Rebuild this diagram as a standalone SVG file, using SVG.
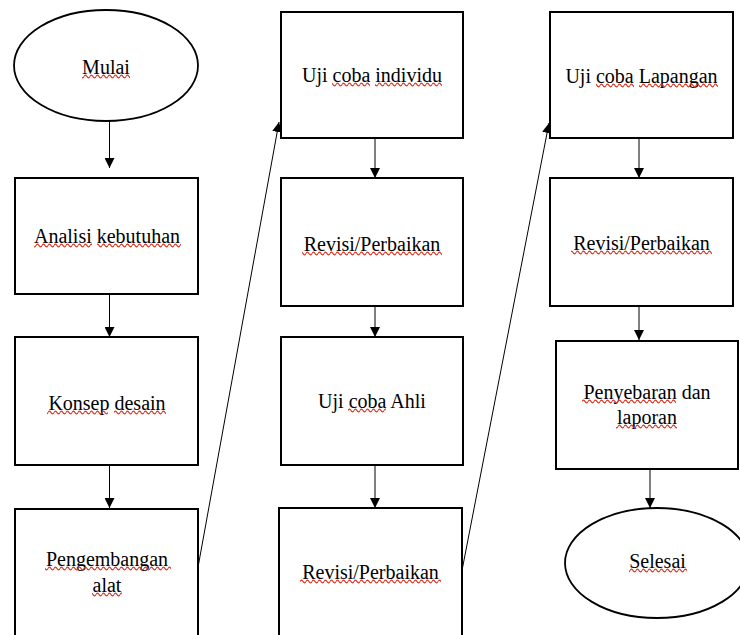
<svg xmlns="http://www.w3.org/2000/svg" width="740" height="635" viewBox="0 0 740 635">
  <style>
    .box { fill: #ffffff; stroke: #000000; stroke-width: 2; }
    .oval { fill: #ffffff; stroke: #000000; stroke-width: 1.8; }
    .link { stroke: #000000; stroke-width: 1; fill: none; marker-end: url(#head); }
    .squiggle { fill: url(#wave); }
  </style>
  <defs>
    <marker id="head" markerUnits="userSpaceOnUse" markerWidth="10" markerHeight="10" refX="10" refY="5" orient="auto">
      <path d="M0,0 L10,5 L0,10 Z" fill="#000000"/>
    </marker>
    <!-- wavy red proofing underline -->
    <pattern id="wave" patternUnits="userSpaceOnUse" width="6" height="5">
      <path d="M0,2.5 Q1.5,-0.3 3,2.5 T6,2.5" fill="none" stroke="#e0301e" stroke-width="1.2"/>
    </pattern>
  </defs>

  <rect width="740" height="635" fill="#ffffff"/>

  <!-- connectors -->
  <g id="connectors">
    <line class="link" x1="109.5" y1="121" x2="109.5" y2="168"/>
    <line class="link" x1="109.5" y1="294" x2="109.5" y2="337"/>
    <line class="link" x1="109.5" y1="465" x2="109.5" y2="508"/>
    <line class="link" x1="197.5" y1="570" x2="279" y2="122"/>
    <line class="link" x1="375" y1="138" x2="375" y2="178"/>
    <line class="link" x1="375" y1="306" x2="375" y2="337"/>
    <line class="link" x1="375" y1="465" x2="375" y2="508"/>
    <line class="link" x1="461.5" y1="573" x2="549" y2="123"/>
    <line class="link" x1="639" y1="138" x2="639" y2="178"/>
    <line class="link" x1="639" y1="306" x2="639" y2="340"/>
    <line class="link" x1="650" y1="469" x2="650" y2="508"/>
  </g>

  <g font-family="Liberation Serif, Times New Roman, serif" font-size="20" fill="#000000" text-anchor="middle">
  <g id="mulai">
    <ellipse class="oval" cx="106" cy="65.5" rx="92" ry="55.5"/>
    <text x="106" y="74">Mulai</text>
    <rect class="squiggle" x="82" y="0" width="48" height="5" transform="translate(0,74)"/>
  </g>

  <g id="analisi-kebutuhan">
    <rect class="box" x="15" y="178" width="183" height="116"/>
    <text x="107" y="243">Analisi kebutuhan</text>
    <rect class="squiggle" x="34" y="0" width="58" height="5" transform="translate(0,243)"/>
    <rect class="squiggle" x="97" y="0" width="84" height="5" transform="translate(0,243)"/>
  </g>

  <g id="konsep-desain">
    <rect class="box" x="15" y="337" width="183" height="128"/>
    <text x="107" y="410">Konsep desain</text>
    <rect class="squiggle" x="47" y="0" width="61" height="5" transform="translate(0,410)"/>
    <rect class="squiggle" x="114" y="0" width="52" height="5" transform="translate(0,410)"/>
  </g>

  <g id="pengembangan-alat">
    <rect class="box" x="15" y="509" width="183" height="140"/>
    <text x="107" y="566">Pengembangan</text>
    <text x="107" y="592">alat</text>
    <rect class="squiggle" x="45" y="0" width="126" height="5" transform="translate(0,566)"/>
    <rect class="squiggle" x="92" y="0" width="30" height="5" transform="translate(0,592)"/>
  </g>

  <g id="uji-coba-individu">
    <rect class="box" x="281" y="12" width="182" height="126"/>
    <text x="372" y="82">Uji coba individu</text>
    <rect class="squiggle" x="332" y="0" width="38" height="5" transform="translate(0,82)"/>
    <rect class="squiggle" x="375" y="0" width="67" height="5" transform="translate(0,82)"/>
  </g>

  <g id="revisi-1">
    <rect class="box" x="281" y="178" width="182" height="128"/>
    <text x="372" y="251">Revisi/Perbaikan</text>
    <rect class="squiggle" x="302" y="0" width="140" height="5" transform="translate(0,251)"/>
  </g>

  <g id="uji-coba-ahli">
    <rect class="box" x="281" y="337" width="182" height="128"/>
    <text x="372" y="408">Uji coba Ahli</text>
    <rect class="squiggle" x="348" y="0" width="38" height="5" transform="translate(0,408)"/>
  </g>

  <g id="revisi-2">
    <rect class="box" x="279" y="508" width="183" height="140"/>
    <text x="370.5" y="579">Revisi/Perbaikan</text>
    <rect class="squiggle" x="300" y="0" width="141" height="5" transform="translate(0,579)"/>
  </g>

  <g id="uji-coba-lapangan">
    <rect class="box" x="550" y="12" width="183" height="126"/>
    <text x="641.5" y="83">Uji coba Lapangan</text>
    <rect class="squiggle" x="596" y="0" width="38" height="5" transform="translate(0,83)"/>
    <rect class="squiggle" x="639" y="0" width="79" height="5" transform="translate(0,83)"/>
  </g>

  <g id="revisi-3">
    <rect class="box" x="550" y="178" width="183" height="128"/>
    <text x="641.5" y="250">Revisi/Perbaikan</text>
    <rect class="squiggle" x="571" y="0" width="141" height="5" transform="translate(0,250)"/>
  </g>

  <g id="penyebaran-dan-laporan">
    <rect class="box" x="556" y="341" width="182" height="128"/>
    <text x="647" y="399">Penyebaran dan</text>
    <text x="647" y="424">laporan</text>
    <rect class="squiggle" x="582" y="0" width="94" height="5" transform="translate(0,399)"/>
    <rect class="squiggle" x="616" y="0" width="61" height="5" transform="translate(0,424)"/>
  </g>

  <g id="selesai">
    <ellipse class="oval" cx="657" cy="563" rx="92" ry="55"/>
    <text x="657.5" y="568">Selesai</text>
    <rect class="squiggle" x="629" y="0" width="58" height="5" transform="translate(0,568)"/>
  </g>
  </g>
</svg>
